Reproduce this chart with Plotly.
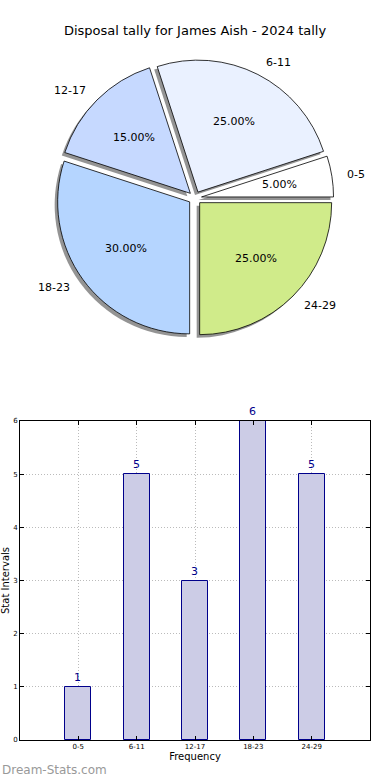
import math
import plotly.graph_objects as go

# ---- data ----
categories = ["0-5", "6-11", "12-17", "18-23", "24-29"]
counts = [1, 5, 3, 6, 5]
pie_colors = ["#FFFFFF", "#EAF1FF", "#C6D9FF", "#B5D5FF", "#D0EB8A"]
title_text = "Disposal tally for James Aish - 2024 tally"
y_ticks = [0, 1, 2, 3, 4, 5, 6]

W, H = 390, 780
FONT = "DejaVu Sans"

# pie geometry (pixels)
cx, cy = 195, 198
pull = 0.05
r = 132
half = r * (1 + pull)

total = sum(counts)
# plotly ccw pies end the first slice at `rotation`; start it at 3 o'clock instead
pie_rotation = 90 - 360 * counts[0] / total


def px2paper(x, y):
    return x / W, 1 - y / H


def domain_at(x0, y0):
    xa, ya = px2paper(x0 - half, y0 + half)
    xb, yb = px2paper(x0 + half, y0 - half)
    return dict(x=[xa, xb], y=[ya, yb])


fig = go.Figure()

# shadow
fig.add_trace(go.Pie(
    labels=categories, values=counts, sort=False, direction="counterclockwise",
    rotation=pie_rotation, pull=pull, textinfo="none", hoverinfo="skip",
    marker=dict(colors=["rgba(60,60,60,0.55)"] * len(counts), line=dict(width=0)),
    domain=domain_at(cx - 3, cy + 3), showlegend=False,
))
# main pie
fig.add_trace(go.Pie(
    labels=categories, values=counts, sort=False, direction="counterclockwise",
    rotation=pie_rotation, pull=pull, textinfo="none",
    marker=dict(colors=pie_colors, line=dict(color="black", width=0.8)),
    domain=domain_at(cx, cy), showlegend=False,
))

# labels and percentages positioned from the data
start = 0.0
annotations = []
for cat, v in zip(categories, counts):
    frac = v / total
    mid = math.radians((start + frac / 2) * 360)
    start += frac
    c, s = math.cos(mid), math.sin(mid)
    lx, ly = cx + (1.1 + pull) * r * c, cy - (1.1 + pull) * r * s
    ax, ay = px2paper(lx, ly)
    annotations.append(dict(
        x=ax, y=ay, xref="paper", yref="paper", text=cat, showarrow=False,
        xanchor="left" if c > 0 else "right", yanchor="middle",
        font=dict(family=FONT, size=11, color="black"),
    ))
    tx, ty = cx + (0.6 + pull) * r * c, cy - (0.6 + pull) * r * s
    bx, by = px2paper(tx, ty)
    annotations.append(dict(
        x=bx, y=by, xref="paper", yref="paper", text=f"{frac*100:.2f}%",
        showarrow=False, xanchor="center", yanchor="middle",
        font=dict(family=FONT, size=11, color="black"),
    ))

# bar chart
fig.add_trace(go.Bar(
    x=categories, y=counts, width=0.45,
    marker=dict(color="#CCCCE6", line=dict(color="#00008B", width=1)),
    text=[str(v) for v in counts], textposition="outside",
    textfont=dict(family=FONT, size=11, color="#00008B"),
    cliponaxis=False, showlegend=False, xaxis="x", yaxis="y",
))

bx0, by0 = px2paper(20, 740)
bx1, by1 = px2paper(370, 421)

axis_common = dict(
    showline=True, linecolor="black", linewidth=1, mirror="ticks",
    ticks="inside", ticklen=4, tickcolor="black",
    showgrid=True, gridcolor="#BBBBBB", griddash="1px,2px", gridwidth=1,
    zeroline=False, automargin=False,
    tickfont=dict(family=FONT, size=7, color="black"),
)

annotations.append(dict(
    x=0, y=px2paper(0, 770)[1], xref="paper", yref="paper", text="Dream-Stats.com",
    showarrow=False, xanchor="left", yanchor="middle",
    font=dict(family=FONT, size=12, color="#999999"),
))

fig.update_layout(
    width=W, height=H,
    margin=dict(l=0, r=0, t=0, b=0),
    paper_bgcolor="white", plot_bgcolor="white",
    title=dict(text=title_text, x=0.5, xanchor="center", y=1 - 30 / H, yanchor="middle",
               font=dict(family=FONT, size=13, color="black")),
    xaxis=dict(domain=[bx0, bx1], range=[-1, 5], type="category",
               title=dict(text="Frequency", standoff=2, font=dict(family=FONT, size=10, color="black")),
               **axis_common),
    yaxis=dict(domain=[by0, by1], range=[0, 6], tickvals=y_ticks,
               title=dict(text="Stat Intervals", standoff=2, font=dict(family=FONT, size=10, color="black")),
               **axis_common),
    annotations=annotations,
    bargap=0,
)

fig.write_html(
    "out.html",
    config={"displayModeBar": False},
    post_script="document.body.style.margin='0';document.body.style.overflow='hidden';",
)
